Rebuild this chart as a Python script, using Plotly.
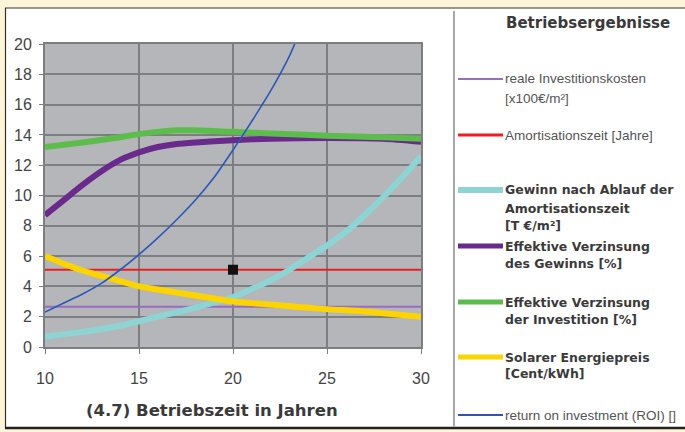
import plotly.graph_objects as go

# ---------------- data ----------------
years_roi = [10, 11, 12, 13, 14, 15, 16, 17, 18, 19, 20, 21, 22, 23, 23.45]
roi = [2.3, 2.9, 3.5, 4.2, 5.1, 6.1, 7.2, 8.4, 9.7, 11.2, 13.0, 14.9, 16.9, 19.2, 20.5]

years_gewinn = [10, 12, 14, 15, 16, 18, 20, 22, 23, 24, 25, 26, 27, 28, 29, 30]
gewinn = [0.7, 1.0, 1.4, 1.7, 2.0, 2.6, 3.3, 4.4, 5.1, 5.9, 6.7, 7.6, 8.7, 9.9, 11.2, 12.6]

years_vz_gewinn = [10, 11, 12, 13, 14, 15, 16, 17, 18, 20, 22, 25, 28, 30]
vz_gewinn = [8.7, 9.7, 10.7, 11.6, 12.35, 12.85, 13.2, 13.4, 13.5, 13.65, 13.75, 13.8, 13.75, 13.55]

years_vz_invest = [10, 12, 14, 15, 16, 17, 18, 20, 22, 25, 28, 30]
vz_invest = [13.2, 13.5, 13.85, 14.05, 14.2, 14.3, 14.3, 14.2, 14.1, 13.95, 13.85, 13.75]

years_preis = [10, 11, 12, 13, 14, 15, 16, 17, 18, 19, 20, 22, 25, 27, 30]
preis = [6.0, 5.5, 5.05, 4.7, 4.35, 4.0, 3.8, 3.6, 3.4, 3.2, 3.0, 2.8, 2.5, 2.35, 2.0]

years_const = [10, 30]
invest_kosten = [2.65, 2.65]
amortisation = [5.1, 5.1]
marker_x = [20]
marker_y = [5.1]

x_ticks = [10, 15, 20, 25, 30]
y_ticks = [0, 2, 4, 6, 8, 10, 12, 14, 16, 18, 20]

legend_title = "Betriebsergebnisse"
x_title = "(4.7) Betriebszeit in Jahren"

# ---------------- styling ----------------
C_INV = "#9a6cc0"
C_RED = "#ee1c1c"
C_CYAN = "#8dd5d5"
C_PURPLE = "#6a2a8c"
C_GREEN = "#5dbd4c"
C_YELLOW = "#fcd500"
C_BLUE = "#2a58b8"

W, H = 685, 432
PL, PR, PT, PB = 45, 421, 44, 347  # plot area in pixels


def px_x(px):
    return (px - PL) / (PR - PL)


def px_y(py):
    return (PB - py) / (PB - PT)


fig = go.Figure()

fig.add_trace(go.Scatter(x=years_const, y=invest_kosten, mode="lines",
                         line=dict(color=C_INV, width=2), showlegend=False))
fig.add_trace(go.Scatter(x=years_const, y=amortisation, mode="lines",
                         line=dict(color=C_RED, width=2), showlegend=False))
fig.add_trace(go.Scatter(x=years_gewinn, y=gewinn, mode="lines",
                         line=dict(color=C_CYAN, width=6, shape="spline", smoothing=0.6),
                         showlegend=False))
fig.add_trace(go.Scatter(x=years_vz_gewinn, y=vz_gewinn, mode="lines",
                         line=dict(color=C_PURPLE, width=6, shape="spline", smoothing=0.6),
                         showlegend=False))
fig.add_trace(go.Scatter(x=years_vz_invest, y=vz_invest, mode="lines",
                         line=dict(color=C_GREEN, width=6, shape="spline", smoothing=0.6),
                         showlegend=False))
fig.add_trace(go.Scatter(x=years_preis, y=preis, mode="lines",
                         line=dict(color=C_YELLOW, width=6, shape="spline", smoothing=0.6),
                         showlegend=False))
fig.add_trace(go.Scatter(x=years_roi, y=roi, mode="lines",
                         line=dict(color=C_BLUE, width=1.6, shape="spline", smoothing=0.6),
                         showlegend=False))
fig.add_trace(go.Scatter(x=marker_x, y=marker_y, mode="markers",
                         marker=dict(symbol="square", size=10, color="#111111"),
                         showlegend=False, cliponaxis=False))

GRID = "#7d7e82"
TICKFONT = dict(family="Liberation Sans, Arial, sans-serif", size=16, color="#444444")

fig.update_xaxes(range=[10, 30], tickvals=x_ticks, showgrid=True, gridcolor=GRID,
                 gridwidth=2, zeroline=False, showline=True, linecolor=GRID, linewidth=2,
                 mirror=True, ticks="outside", ticklen=5, tickcolor=GRID, tickwidth=1,
                 tickfont=TICKFONT, ticklabelstandoff=11, fixedrange=True)
fig.update_yaxes(range=[0, 20], tickvals=y_ticks, showgrid=True, gridcolor=GRID,
                 gridwidth=2, zeroline=False, showline=True, linecolor=GRID, linewidth=2,
                 mirror=True, ticks="outside", ticklen=4, tickcolor=GRID, tickwidth=1,
                 tickfont=TICKFONT, ticklabelstandoff=4, fixedrange=True)

shapes = []
CREAM = "#fcf5da"
# cream frame around the white panel
shapes.append(dict(type="rect", xref="paper", yref="paper", x0=px_x(0), x1=px_x(W),
                   y0=px_y(0), y1=px_y(7.5), fillcolor=CREAM, line_width=0, layer="below"))
shapes.append(dict(type="rect", xref="paper", yref="paper", x0=px_x(0), x1=px_x(5),
                   y0=px_y(0), y1=px_y(H), fillcolor=CREAM, line_width=0, layer="below"))
shapes.append(dict(type="rect", xref="paper", yref="paper", x0=px_x(0), x1=px_x(W),
                   y0=px_y(428), y1=px_y(H), fillcolor=CREAM, line_width=0, layer="below"))
# dark borders of panel
shapes.append(dict(type="line", xref="paper", yref="paper", x0=px_x(5), x1=px_x(W),
                   y0=px_y(8), y1=px_y(8), line=dict(color="#3a3020", width=1.2)))
shapes.append(dict(type="line", xref="paper", yref="paper", x0=px_x(5.5), x1=px_x(5.5),
                   y0=px_y(8), y1=px_y(428), line=dict(color="#3a3020", width=1.2)))
shapes.append(dict(type="line", xref="paper", yref="paper", x0=px_x(5), x1=px_x(W),
                   y0=px_y(428), y1=px_y(428), line=dict(color="#222222", width=2.5)))
# separator between chart and legend
shapes.append(dict(type="line", xref="paper", yref="paper", x0=px_x(454), x1=px_x(454),
                   y0=px_y(11), y1=px_y(427), line=dict(color="#a8a8a8", width=2)))

# legend samples
legend_lines = [
    (79, C_INV, 2),
    (135, C_RED, 3),
    (190, C_CYAN, 6),
    (246, C_PURPLE, 5),
    (302, C_GREEN, 5),
    (357, C_YELLOW, 5),
    (415, C_BLUE, 2),
]
for yy, col, wd in legend_lines:
    shapes.append(dict(type="line", xref="paper", yref="paper", x0=px_x(458), x1=px_x(503),
                       y0=px_y(yy), y1=px_y(yy), line=dict(color=col, width=wd)))

LIGHT = dict(family="Liberation Sans, Arial, sans-serif", size=13.5, color="#555555")
BOLD = dict(family="DejaVu Sans, sans-serif", size=12.5, color="#3a3a3a", weight="bold")

legend_texts = [
    (79, "reale Investitionskosten", LIGHT),
    (98, "[x100€/m²]", LIGHT),
    (135, "Amortisationszeit [Jahre]", LIGHT),
    (190, "Gewinn nach Ablauf der", BOLD),
    (208, "Amortisationszeit", BOLD),
    (225, "[T €/m²]", BOLD),
    (246, "Effektive Verzinsung", BOLD),
    (263, "des Gewinns [%]", BOLD),
    (302, "Effektive Verzinsung", BOLD),
    (319, "der Investition [%]", BOLD),
    (357, "Solarer Energiepreis", BOLD),
    (373, "[Cent/kWh]", BOLD),
    (415, "return on investment (ROI) []", LIGHT),
]
annotations = []
for yy, txt, fnt in legend_texts:
    annotations.append(dict(xref="paper", yref="paper", x=px_x(504), y=px_y(yy),
                            xanchor="left", yanchor="middle", text=txt, showarrow=False,
                            font=fnt, borderpad=0))
annotations.append(dict(xref="paper", yref="paper", x=px_x(505), y=px_y(23),
                        xanchor="left", yanchor="middle", text=legend_title, showarrow=False,
                        font=dict(family="DejaVu Sans, sans-serif", size=15, color="#3a3a3a",
                                  weight="bold"), borderpad=0))
annotations.append(dict(xref="paper", yref="paper", x=px_x(85), y=px_y(410),
                        xanchor="left", yanchor="middle", text=x_title, showarrow=False,
                        font=dict(family="DejaVu Sans, sans-serif", size=16.5, color="#3a3a3a",
                                  weight="bold"), borderpad=0))

fig.update_layout(
    width=W, height=H,
    margin=dict(l=PL, r=W - PR, t=PT, b=H - PB, pad=0),
    paper_bgcolor="white",
    plot_bgcolor="#b5b6b9",
    shapes=shapes,
    annotations=annotations,
    showlegend=False,
)

fig.write_html("out.html", config={"displayModeBar": False})
